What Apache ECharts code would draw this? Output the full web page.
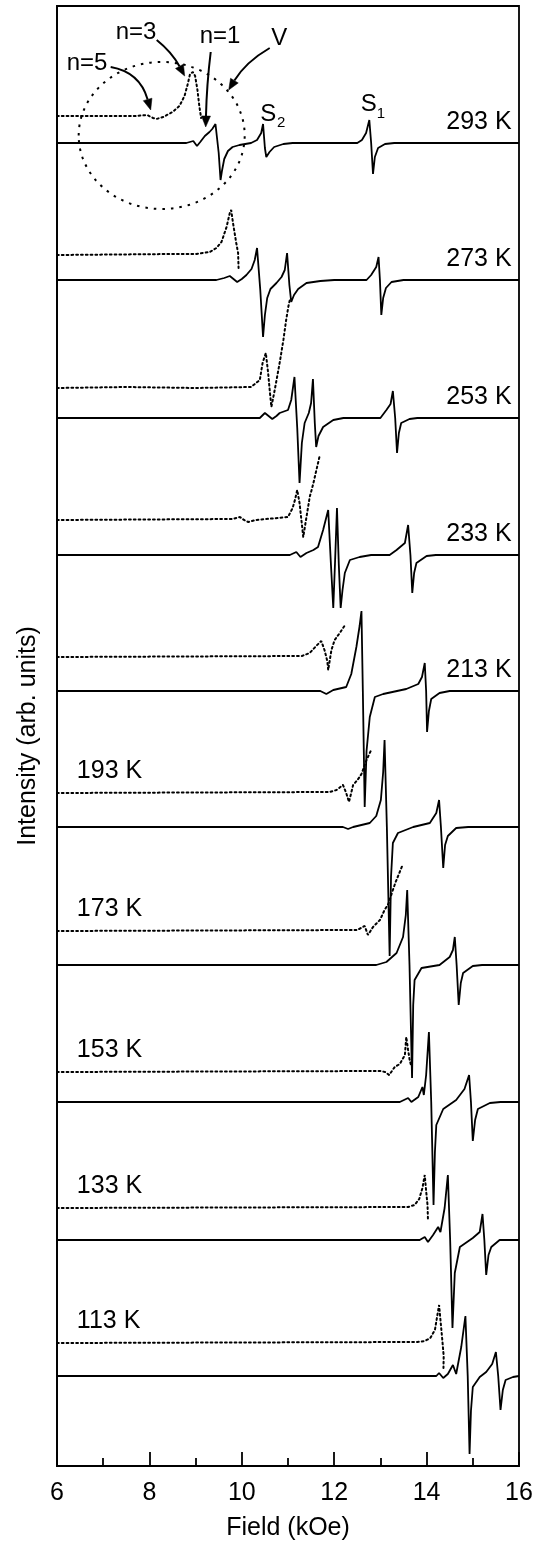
<!DOCTYPE html>
<html><head><meta charset="utf-8">
<script src="https://cdn.jsdelivr.net/npm/echarts@6/dist/echarts.min.js"></script>
<style>html,body{margin:0;padding:0;background:#fff}#c{width:543px;height:1547px}</style>
</head><body><div id="c"></div>
<script>
// ---- data (field in kOe, signal relative to each trace's baseline) ----
const tempLabels = ['293 K','273 K','253 K','233 K','213 K','193 K','173 K','153 K','133 K','113 K'];
const xTicks = [6, 8, 10, 12, 14, 16];
const solidOffsets  = [1323, 1186, 1048, 911, 775, 639, 501, 364, 226, 90];
const dottedOffsets = [1350, 1211, 1078, 946, 809, 673, 535, 394, 258, 123];

const s293 = [[6,0],[8.8,0],[8.95,2],[9.03,-3],[9.1,1],[9.2,7],[9.3,11],[9.36,14],[9.43,19],[9.5,-10],[9.54,-37],[9.57,-28],[9.62,-16],[9.7,-8],[9.8,-4],[9.95,-2],[10.2,0],[10.33,3],[10.42,10],[10.46,19],[10.5,-5],[10.53,-14],[10.6,-9],[10.7,-4],[10.9,-1],[11.1,0],[12.5,0],[12.6,3],[12.69,10],[12.76,23],[12.8,0],[12.84,-31],[12.88,-14],[12.95,-5],[13.1,-1],[13.3,0],[16,0]];
const d293 = [[6,0],[7.7,0],[7.95,1],[8.08,-2],[8.15,-3],[8.3,-1],[8.5,4],[8.65,10],[8.76,20],[8.83,32],[8.88,42],[8.94,44],[8.99,40],[9.04,26],[9.08,10],[9.12,-2]];
const s273 = [[6,0],[9.45,0],[9.62,2],[9.74,4],[9.82,1],[9.9,-2],[10.0,1],[10.1,5],[10.21,11],[10.28,20],[10.33,32],[10.4,-10],[10.46,-57],[10.5,-35],[10.55,-18],[10.62,-9],[10.75,-3],[10.86,3],[10.93,10],[10.98,27],[11.03,-5],[11.07,-22],[11.13,-15],[11.22,-9],[11.4,-3],[11.7,-1],[12.0,0],[12.7,0],[12.8,5],[12.91,13],[12.96,23],[12.99,0],[13.02,-35],[13.06,-18],[13.12,-8],[13.24,-2],[13.5,0],[16,0]];
const d273 = [[6,0],[8.5,1],[9.0,1],[9.31,3],[9.45,7],[9.56,13],[9.67,28],[9.74,42],[9.77,45],[9.81,32],[9.88,12],[9.92,2],[9.93,-13]];
const s253 = [[6,0],[10.39,0],[10.5,5],[10.58,2],[10.66,-1],[10.75,2],[10.82,5],[11.0,8],[11.07,18],[11.14,41],[11.2,-10],[11.25,-65],[11.3,-25],[11.36,-5],[11.45,5],[11.5,15],[11.54,39],[11.58,-5],[11.61,-29],[11.66,-18],[11.76,-9],[11.98,-2],[12.2,0],[13.0,0],[13.13,8],[13.22,14],[13.27,27],[13.32,0],[13.36,-35],[13.4,-15],[13.45,-5],[13.63,-1],[13.8,0],[16,0]];
const d253 = [[6,0],[7.5,1],[9.0,0],[10.2,1],[10.39,8],[10.45,25],[10.52,35],[10.57,15],[10.61,-5],[10.64,-19],[10.7,-5],[10.76,10],[10.83,28],[10.9,48],[10.96,68],[11.01,82],[11.04,88]];
const s233 = [[6,0],[11.04,0],[11.18,3],[11.27,-2],[11.4,2],[11.55,5],[11.65,8],[11.76,25],[11.87,45],[11.93,-10],[11.98,-53],[12.02,-5],[12.06,47],[12.1,-10],[12.14,-53],[12.18,-35],[12.23,-18],[12.34,-5],[12.55,-2],[12.8,0],[13.2,0],[13.35,5],[13.53,12],[13.6,30],[13.65,0],[13.69,-38],[13.73,-18],[13.78,-8],[14.0,-1],[14.2,0],[16,0]];
const d233 = [[6,0],[9.8,1],[9.96,3],[10.05,0],[10.14,-2],[10.3,0],[11.0,3],[11.1,12],[11.15,20],[11.2,30],[11.25,17],[11.29,0],[11.33,-17],[11.4,3],[11.47,23],[11.54,35],[11.6,47],[11.65,57],[11.69,65]];
const s213 = [[6,0],[11.7,0],[11.83,-3],[11.98,1],[12.26,4],[12.37,17],[12.48,44],[12.55,65],[12.59,80],[12.62,0],[12.66,-116],[12.7,-60],[12.77,-26],[12.88,-6],[13.06,-3],[13.56,2],[13.82,7],[13.9,14],[13.96,28],[13.99,0],[14.01,-41],[14.05,-20],[14.1,-8],[14.28,-2],[14.5,0],[16,0]];
const d213 = [[6,0],[11.3,1],[11.47,4],[11.61,11],[11.72,16],[11.79,7],[11.85,-4],[11.87,-13],[11.94,7],[12.01,17],[12.12,24],[12.25,33]];
const s193 = [[6,0],[12.19,0],[12.3,-2],[12.41,0],[12.77,4],[12.91,11],[13.01,27],[13.06,55],[13.09,87],[13.14,0],[13.2,-129],[13.23,-50],[13.27,-16],[13.38,-6],[13.71,0],[14.07,4],[14.21,14],[14.27,27],[14.31,0],[14.36,-41],[14.4,-18],[14.46,-9],[14.64,-1],[14.9,0],[16,0]];
const d193 = [[6,0],[11.9,1],[12.05,3],[12.19,8],[12.26,0],[12.32,-9],[12.41,8],[12.52,14],[12.59,19],[12.7,33],[12.8,43]];
const s173 = [[6,0],[12.91,0],[13.13,3],[13.35,12],[13.49,28],[13.55,50],[13.58,75],[13.63,0],[13.685,-113],[13.71,-40],[13.74,-15],[13.89,-3],[14.28,0],[14.5,8],[14.57,15],[14.61,28],[14.65,0],[14.695,-40],[14.74,-18],[14.79,-8],[15.0,-1],[15.2,0],[16,0]];
const d173 = [[6,0],[12.5,1],[12.66,5],[12.73,-4],[12.84,4],[12.99,11],[13.09,21],[13.17,27],[13.27,41],[13.33,49],[13.48,66]];
const s153 = [[6,0],[13.42,0],[13.6,4],[13.67,0],[13.82,5],[13.91,15],[13.94,7],[13.99,27],[14.05,70],[14.1,0],[14.15,-103],[14.18,-50],[14.21,-23],[14.36,-7],[14.64,2],[14.82,13],[14.92,27],[14.96,0],[15.0,-39],[15.05,-18],[15.11,-7],[15.37,-1],[15.6,0],[16,0]];
const d153 = [[6,0],[13.0,1],[13.1,0],[13.19,-3],[13.31,5],[13.42,8],[13.53,17],[13.56,35],[13.6,22],[13.63,13],[13.67,5]];
const s133 = [[6,0],[13.85,0],[13.96,3],[14.03,-2],[14.14,5],[14.25,13],[14.3,8],[14.39,32],[14.46,65],[14.51,0],[14.56,-88],[14.61,-33],[14.72,-7],[15.0,2],[15.15,8],[15.21,26],[15.25,0],[15.29,-35],[15.34,-15],[15.4,-7],[15.58,0],[16,0]];
const d133 = [[6,0],[13.6,1],[13.74,3],[13.84,9],[13.91,20],[13.96,33],[13.99,17],[14.02,3],[14.03,-13]];
const s113 = [[6,0],[14.21,0],[14.27,3],[14.36,-2],[14.46,2],[14.57,11],[14.64,2],[14.75,29],[14.84,60],[14.89,0],[14.93,-78],[14.96,-35],[15.0,-11],[15.15,-1],[15.29,4],[15.42,12],[15.5,24],[15.55,0],[15.6,-34],[15.65,-14],[15.71,-4],[15.87,-1],[16,0]];
const d113 = [[6,0],[13.8,1],[13.96,2],[14.08,5],[14.18,13],[14.23,27],[14.27,38],[14.3,23],[14.34,3],[14.37,-13],[14.365,-25]];

// annotation texts: [text, field, value, fontSize, align]
const annoTexts = [
  ['n=5', 6.65, 1403, 24, 'center'],
  ['n=3', 7.71, 1434, 24, 'center'],
  ['n=1', 9.53, 1430, 24, 'center'],
  ['V', 10.81, 1428, 24, 'center'],
  ['S', 10.57, 1352, 24, 'center'],
  ['2', 10.85, 1343, 15, 'center'],
  ['S', 12.75, 1362, 24, 'center'],
  ['1', 13.01, 1352, 15, 'center']
];
// arrows: [start, control, end] in [field, value]
const arrows = [
  [[7.162,1399],[7.79,1394],[8.028,1356]],
  [[8.158,1426],[8.483,1414],[8.764,1390]],
  [[9.327,1414],[9.24,1381],[9.219,1339]],
  [[10.604,1418],[10.084,1404],[9.716,1376]]
];
const circleCenter = [8.266, 1330.5];

const solidTraces = [s293,s273,s253,s233,s213,s193,s173,s153,s133,s113];
const dottedTraces = [d293,d273,d253,d233,d213,d193,d173,d153,d133,d113];

const FONT = '"Liberation Sans", Arial, sans-serif';
const series = [];
solidTraces.forEach((t, i) => {
  series.push({type:'line', data: t.map(p => [p[0], solidOffsets[i] + p[1]]), showSymbol:false, symbol:'none',
    lineStyle:{color:'#000', width:1.8}, silent:true, z:3, clip:true});
});
dottedTraces.forEach((t, i) => {
  series.push({type:'line', data: t.map(p => [p[0], dottedOffsets[i] + p[1]]), showSymbol:false, symbol:'none',
    lineStyle:{color:'#000', width:2, type:[1.8, 3], cap:'round'}, silent:true, z:3, clip:true});
});

const chart = echarts.init(document.getElementById('c'), null, {renderer:'canvas'});
chart.setOption({
  animation:false,
  backgroundColor:'#fff',
  grid:{left:57, right:24, top:6, bottom:81, show:true, borderColor:'#000', borderWidth:1.8, backgroundColor:'transparent'},
  xAxis:{type:'value', min:xTicks[0], max:xTicks[xTicks.length-1], interval:2,
    axisLine:{show:true, lineStyle:{color:'#000', width:1.8}},
    axisTick:{show:true, inside:true, length:14, lineStyle:{color:'#000', width:1.8}},
    minorTick:{show:true, splitNumber:2, length:8, lineStyle:{color:'#000', width:1.8}},
    axisLabel:{color:'#000', fontSize:25, fontFamily:FONT, margin:15},
    splitLine:{show:false},
    name:'Field (kOe)', nameLocation:'middle', nameGap:50,
    nameTextStyle:{color:'#000', fontSize:25, fontFamily:FONT}},
  yAxis:{type:'value', min:0, max:1460,
    axisLine:{show:true, lineStyle:{color:'#000', width:1.8}},
    axisTick:{show:false}, axisLabel:{show:false}, splitLine:{show:false},
    name:'Intensity (arb. units)', nameLocation:'middle', nameGap:16,
    nameTextStyle:{color:'#000', fontSize:25, fontFamily:FONT}},
  series: series
});

const P = (f, v) => chart.convertToPixel({gridIndex:0}, [f, v]);
const g = [];
function txt(text, xy, size, align){
  g.push({type:'text', x:xy[0], y:xy[1], z:10,
    style:{text:text, fontSize:size, fontFamily:FONT, fill:'#000', align:align, verticalAlign:'middle', textAlign:align, textVerticalAlign:'middle'}});
}
tempLabels.forEach((t, i) => {
  if (i < 5) txt(t, P(15.84, solidOffsets[i] + 21), 25, 'right');
  else txt(t, P(6.43, dottedOffsets[i] + 22), 25, 'left');
});
annoTexts.forEach(a => txt(a[0], P(a[1], a[2]), a[3], a[4]));
arrows.forEach(a => {
  const s = P(a[0][0], a[0][1]), c = P(a[1][0], a[1][1]), e = P(a[2][0], a[2][1]);
  const dx = e[0]-c[0], dy = e[1]-c[1], L = Math.hypot(dx, dy), ux = dx/L, uy = dy/L;
  const hl = 11, hw = 4.5;
  const bx = e[0]-ux*hl, by = e[1]-uy*hl;
  g.push({type:'bezierCurve', z:10, shape:{x1:s[0], y1:s[1], cpx1:c[0], cpy1:c[1], x2:bx, y2:by},
    style:{stroke:'#000', lineWidth:2, fill:null}});
  g.push({type:'polygon', z:10, shape:{points:[[e[0],e[1]],[bx-uy*hw, by+ux*hw],[bx+uy*hw, by-ux*hw]]},
    style:{fill:'#000', stroke:'#000', lineWidth:0.5}});
});
const cc = P(circleCenter[0], circleCenter[1]);
g.push({type:'ellipse', z:9, shape:{cx:cc[0], cy:cc[1], rx:83, ry:73.5},
  style:{fill:null, stroke:'#000', lineWidth:2, lineDash:[2.5, 6]}});
chart.setOption({graphic: g});
</script>
</body></html>
